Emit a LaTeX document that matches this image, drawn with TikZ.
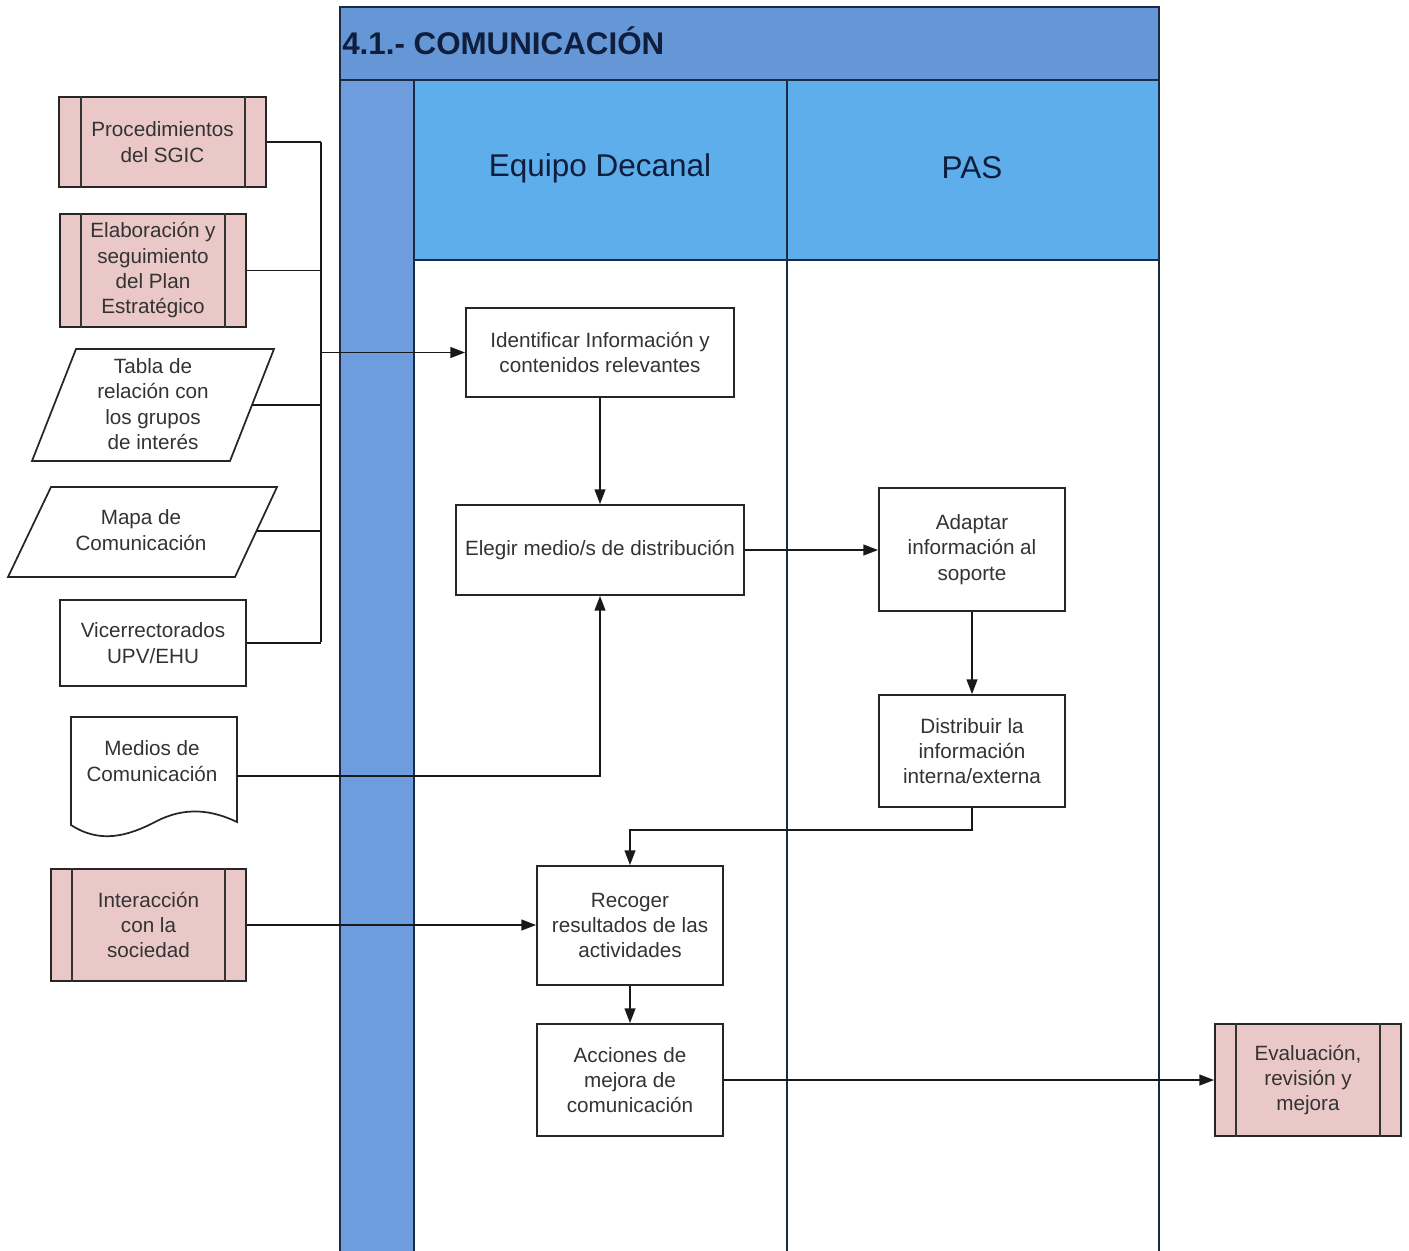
\documentclass[tikz,border=0pt]{standalone}
\usepackage{fontspec}
\setmainfont{Liberation Sans}
\usetikzlibrary{fit,calc,arrows.meta}
\definecolor{titleblue}{HTML}{6596D6}
\definecolor{stripblue}{HTML}{6E9DDD}
\definecolor{headblue}{HTML}{5EAEEC}
\definecolor{lanedark}{HTML}{1B2B45}
\definecolor{pinkfill}{HTML}{EAC8C8}
\definecolor{txtgray}{HTML}{333333}
\definecolor{navytxt}{HTML}{0E1E3C}
\newcommand\nodefont{\fontsize{15.5}{19}\selectfont}
\tikzset{
  box/.style={draw=black!85, line width=1.3pt, fill=white, inner sep=0pt},
  sub/.style={box, fill=pinkfill},
  txt/.style={align=center, font=\nodefont, text=txtgray, inner sep=0pt},
  shapeline/.style={draw=black!85, line width=1.3pt, fill=white},
  conn/.style={line width=1.4pt, draw=black!90},
  arr/.style={conn, -{Triangle[length=11pt,width=8pt]}},
  lane/.style={line width=2pt, draw=lanedark},
  inner/.style={line width=1.3pt, draw=black!80},
}
\begin{document}
\begin{tikzpicture}[x=0.75pt,y=-0.75pt]
\useasboundingbox (0,0) rectangle (1409,1250);
% ---- pool ----
\fill[titleblue] (340,7) rectangle (1159,80);
\fill[stripblue] (340,80) rectangle (414,1262);
\fill[headblue] (414,80) rectangle (1159,260);
\draw[lane] (340,1262) -- (340,7) -- (1159,7) -- (1159,1262);
\draw[lane] (340,80) -- (1159,80);
\draw[lane] (414,260) -- (1159,260);
\draw[lane] (414,80) -- (414,1262);
\draw[lane] (787,80) -- (787,1262);
\node[anchor=west, inner sep=0pt, font=\fontsize{23.5}{27}\selectfont\bfseries, text=navytxt] (title) at (342,41) {4.1.- COMUNICACIÓN};
\node[inner sep=0pt, font=\fontsize{23.6}{27}\selectfont, text=navytxt] (h1) at (600,168) {Equipo Decanal};
\node[inner sep=0pt, font=\fontsize{23.6}{27}\selectfont, text=navytxt] (h2) at (972,168) {PAS};
% ---- left inputs ----
\node[sub, fit={(59,97) (266,187)}] (proc) {};
\node[txt] (proc-t) at (proc.center) {Procedimientos\\del SGIC};
\draw[inner] ($(proc.north west)+(23,0)$) -- ($(proc.south west)+(23,0)$);
\draw[inner] ($(proc.north east)+(-22,0)$) -- ($(proc.south east)+(-22,0)$);
\node[sub, fit={(60,214) (246,327)}] (elab) {};
\node[txt] (elab-t) at (elab.center) {Elaboración y\\seguimiento\\del Plan\\Estratégico};
\draw[inner] ($(elab.north west)+(22,0)$) -- ($(elab.south west)+(22,0)$);
\draw[inner] ($(elab.north east)+(-22,0)$) -- ($(elab.south east)+(-22,0)$);
\draw[shapeline] (76,349) -- (274,349) -- (230,461) -- (32,461) -- cycle;
\node[txt] (tabla) at (153,404) {Tabla de\\relación con\\los grupos\\de interés};
\coordinate (tablaE) at (252,405);
\draw[shapeline] (51,487) -- (277,487) -- (235,577) -- (8,577) -- cycle;
\node[txt] (mapa) at (141,530) {Mapa de\\Comunicación};
\coordinate (mapaE) at (257,531);
\node[box, fit={(60,600) (246,686)}] (vice) {};
\node[txt] (vice-t) at (vice.center) {Vicerrectorados\\UPV/EHU};
\draw[shapeline] (71,825) -- (71,717) -- (237,717) -- (237,822)
  .. controls (212,810) and (185,806) .. (155,822)
  .. controls (128,836) and (100,844) .. (71,825) -- cycle;
\node[txt] (medios) at (152,761) {Medios de\\Comunicación};
\coordinate (mediosE) at (237,776);
\node[sub, fit={(51,869) (246,981)}] (inter) {};
\node[txt] (inter-t) at (inter.center) {Interacción\\con la\\sociedad};
\draw[inner] ($(inter.north west)+(22,0)$) -- ($(inter.south west)+(22,0)$);
\draw[inner] ($(inter.north east)+(-22,0)$) -- ($(inter.south east)+(-22,0)$);
% ---- process ----
\node[box, fit={(466,308) (734,397)}] (ident) {};
\node[txt] (ident-t) at (ident.center) {Identificar Información y\\contenidos relevantes};
\node[box, fit={(456,505) (744,595)}] (elegir) {};
\node[txt] (elegir-t) at (elegir.center) {Elegir medio/s de distribución};
\node[box, fit={(879,488) (1065,611)}] (adapt) {};
\node[txt] (adapt-t) at (adapt.center) {Adaptar\\información al\\soporte};
\node[box, fit={(879,695) (1065,807)}] (distr) {};
\node[txt] (distr-t) at (distr.center) {Distribuir la\\información\\interna/externa};
\node[box, fit={(537,866) (723,985)}] (recog) {};
\node[txt] (recog-t) at (recog.center) {Recoger\\resultados de las\\actividades};
\node[box, fit={(537,1024) (723,1136)}] (acc) {};
\node[txt] (acc-t) at (acc.center) {Acciones de\\mejora de\\comunicación};
\node[sub, fit={(1215,1024) (1401,1136)}] (eval) {};
\node[txt] (eval-t) at (eval.center) {Evaluación,\\revisión y\\mejora};
\draw[inner] ($(eval.north west)+(22,0)$) -- ($(eval.south west)+(22,0)$);
\draw[inner] ($(eval.north east)+(-22,0)$) -- ($(eval.south east)+(-22,0)$);
% ---- bus ----
\coordinate (busT) at (321,142);
\coordinate (busB) at (321,642);
\draw[conn] (proc.east) -- (proc.east -| busT);
\draw[conn] (busT) -- (busB);
\draw[conn] (elab.east) -- (elab.east -| busT);
\draw[conn] (tablaE) -- (tablaE -| busT);
\draw[conn] (mapaE) -- (mapaE -| busT);
\draw[conn] (vice.east) -- (vice.east -| busT);
\draw[arr] (ident.west -| busT) -- (ident.west);
% ---- flow ----
\draw[arr] (ident.south) -- (elegir.north);
\draw[arr] (elegir.east) -- (elegir.east -| adapt.west);
\draw[arr] (adapt.south) -- (distr.north);
\draw[arr] (distr.south) -- ++(0,22) -| (recog.north);
\draw[arr] (mediosE) -| (elegir.south);
\draw[arr] (inter.east) -- (inter.east -| recog.west);
\draw[arr] (recog.south) -- (acc.north);
\draw[arr] (acc.east) -- (acc.east -| eval.west);
\end{tikzpicture}
\end{document}
